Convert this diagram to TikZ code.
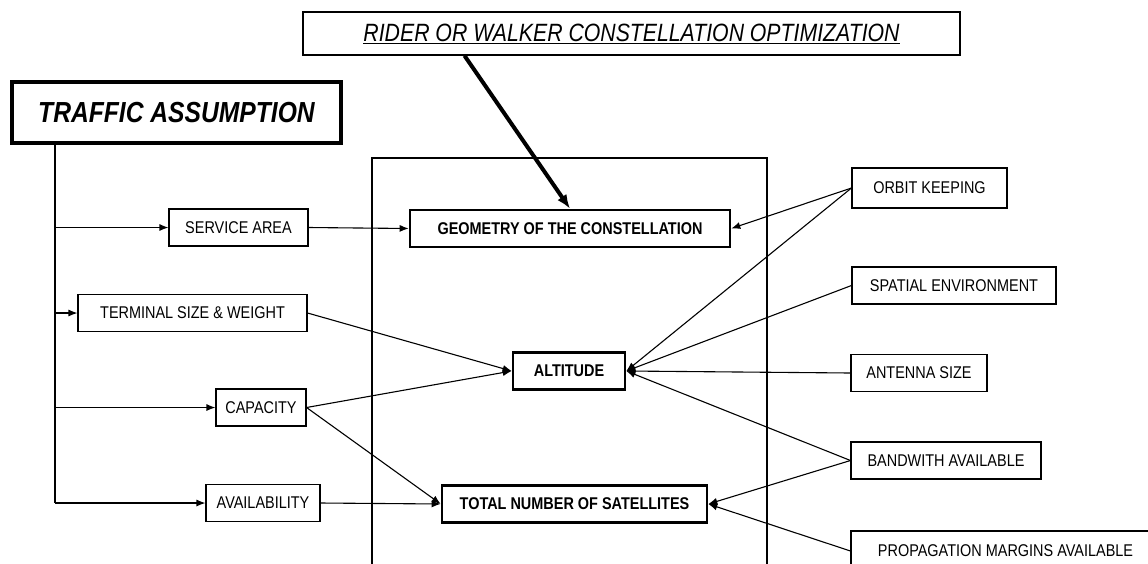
\documentclass[tikz,border=0pt]{standalone}
\usepackage{fontspec}
\setmainfont{Liberation Sans}[FakeStretch=0.85]
\usetikzlibrary{arrows.meta}

\begin{document}
\begin{tikzpicture}[x=1pt, y=-1pt,
          every node/.style={draw, align=center, inner sep=0pt, font=\fontsize{17}{20}\selectfont},
          factor/.style={line width=1.1pt, minimum height=37pt},
          design/.style={line width=2.6pt, minimum height=37pt, font=\fontsize{17}{20}\selectfont\bfseries},
          link/.style={line width=1.1pt, -{Latex[length=9pt,width=7pt]}}
        ]
        \useasboundingbox (0,0) rectangle (1148,563);

        % Top boxes
        \node[line width=1.3pt, minimum width=657pt, minimum height=43pt, font=\fontsize{25}{28}\selectfont\itshape] (rider) at (631.5,33.5) {\underline{RIDER OR WALKER CONSTELLATION OPTIMIZATION}};
        \node[line width=3.5pt, minimum width=329pt, minimum height=61pt, font=\fontsize{29}{32}\selectfont\bfseries\itshape] (traffic) at (176.5,112.5) {TRAFFIC ASSUMPTION};

        % Frame round the middle column
        \draw[line width=2pt] (372,600) -- (372,158) -- (767,158) -- (767,600);

        % Left column
        \node[factor, minimum width=139pt] (service) at (238.5,227.5) {SERVICE AREA};
        \node[factor, minimum width=229pt] (terminal) at (192.5,313) {TERMINAL SIZE \& WEIGHT};
        \node[factor, minimum width=90pt] (capacity) at (261,407.5) {CAPACITY};
        \node[factor, minimum width=114pt] (availability) at (263,503) {AVAILABILITY};

        % Middle column
        \node[design, minimum width=320pt] (geometry) at (570,228.5) {GEOMETRY OF THE CONSTELLATION};
        \node[design, minimum width=112pt] (altitude) at (569,371) {ALTITUDE};
        \node[design, minimum width=265pt] (total) at (574.5,504) {TOTAL NUMBER OF SATELLITES};

        % Right column
        \node[factor, minimum width=155pt, minimum height=40pt] (orbit) at (929.5,188) {ORBIT KEEPING};
        \node[factor, minimum width=204pt] (spatial) at (954,285.5) {SPATIAL ENVIRONMENT};
        \node[factor, minimum width=136pt] (antenna) at (919,373) {ANTENNA SIZE};
        \node[factor, minimum width=190pt] (bandwith) at (946,460.5) {BANDWITH AVAILABLE};
        \node[factor, minimum width=309pt, minimum height=40pt] (propagation) at (1005.5,551) {PROPAGATION MARGINS AVAILABLE};

        % Traffic branches
        \coordinate (trunk) at (55,503);
        \draw[line width=1.1pt] (traffic.south -| trunk) -- (trunk);
        \draw[link] (service.west -| trunk) -- (service.west);
        \draw[link] (terminal.west -| trunk) -- (terminal.west);
        \draw[link] (capacity.west -| trunk) -- (capacity.west);
        \draw[link] (availability.west -| trunk) -- (availability.west);

        % Into the middle column
        \draw[line width=4pt, -{Latex[length=14pt,width=11pt]}] ([xshift=-167pt]rider.south) -- (geometry.north);
        \draw[link] (service.east) -- (geometry.west);
        \draw[link] (terminal.east) -- (altitude.west);
        \draw[link] (capacity.east) -- (altitude.west);
        \draw[link] (capacity.east) -- (total.west);
        \draw[link] (availability.east) -- (total.west);
        \draw[link] (orbit.west) -- (geometry.east);
        \draw[link] (orbit.west) -- (altitude.east);
        \draw[link] (spatial.west) -- (altitude.east);
        \draw[link] (antenna.west) -- (altitude.east);
        \draw[link] (bandwith.west) -- (altitude.east);
        \draw[link] (bandwith.west) -- (total.east);
        \draw[link] (propagation.west) -- (total.east);

      \end{tikzpicture}
\end{document}
